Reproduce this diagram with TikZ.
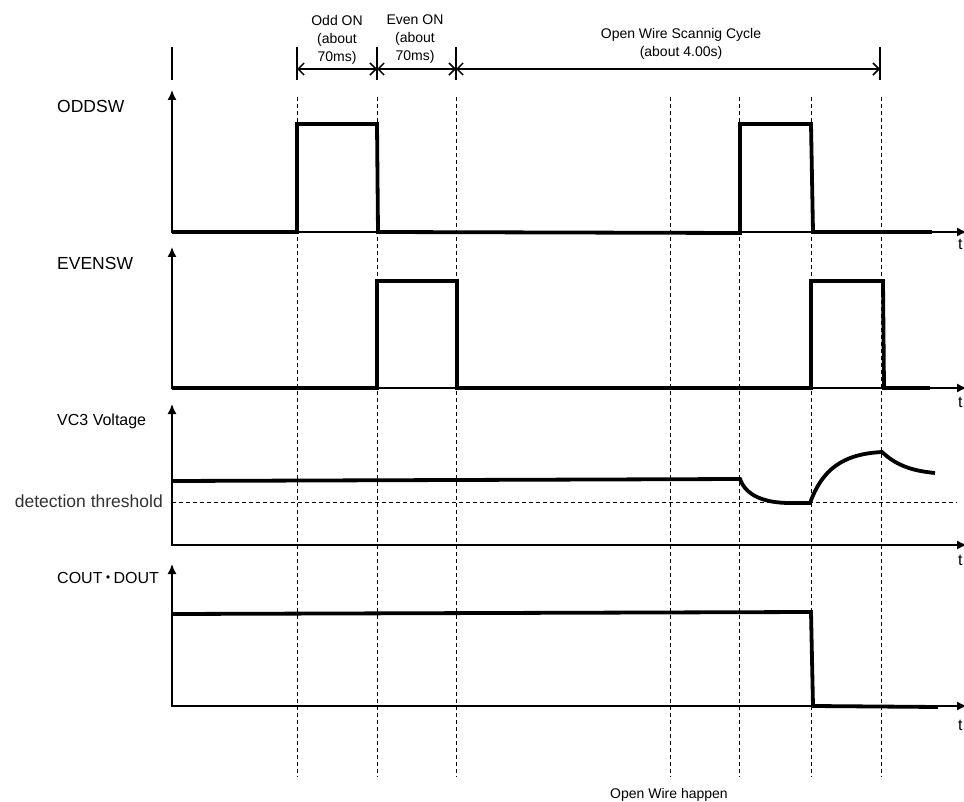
\documentclass[tikz,border=0pt]{standalone}
\usepackage{fontspec}
\setmainfont{Liberation Sans}
\newfontfamily\cjk{Noto Sans CJK JP}
\usetikzlibrary{arrows.meta}
\begin{document}
\begin{tikzpicture}[x=1pt,y=-1pt,
  axisline/.style={line width=1.5pt,{Latex[length=10pt,width=9pt]}-{Latex[length=10pt,width=9pt]}},
  sig/.style={line width=3.8pt,line join=miter,line cap=butt},
  guide/.style={line width=0.8pt,dash pattern=on 4pt off 3pt},
  thr/.style={line width=0.8pt,dash pattern=on 4pt off 3pt},
  tick/.style={line width=1.5pt},
  dimarrow/.style={line width=1.5pt,{Straight Barb[length=6pt,width=12pt]}-{Straight Barb[length=6pt,width=12pt]}},
  siglabel/.style={inner sep=0pt,anchor=base west,font=\fontsize{17.5}{20}\selectfont},
  smalllabel/.style={inner sep=0pt,font=\fontsize{14}{18}\selectfont,align=center},
  tlabel/.style={inner sep=0pt,anchor=base west,font=\fontsize{16}{18}\selectfont}]
\useasboundingbox (0,0) rectangle (964,802);
\fill[white] (0,0) rectangle (964,802);

% guide lines
\foreach \gx in {297,377,456,670,739,811,881}
  \draw[guide] (\gx,97) -- (\gx,777);

% top dimension ticks
\foreach \tx/\tn in {172/ta,297/tb,377/tc,456/td,880/te}{
  \coordinate (\tn top) at (\tx,47);
  \coordinate (\tn) at (\tx,69);
  \coordinate (\tn bot) at (\tx,80);
  \draw[tick] (\tn top) -- (\tn bot);
}
\draw[dimarrow] (tb) -- (tc);
\draw[dimarrow] (tc) -- (td);
\draw[dimarrow] (td) -- (te);

\node[smalllabel,anchor=north] (oddon) at (337,15) {Odd ON\\(about\\70ms)};
\node[smalllabel,anchor=north] (evenon) at (415,15) {Even ON\\(about\\70ms)};
\node[smalllabel,anchor=north] (cycle) at (681,28) {Open Wire Scannig Cycle\\(about 4.00s)};

% axes
\coordinate (o1) at (172,232);
\coordinate (o2) at (172,388);
\coordinate (o3) at (172,545);
\coordinate (o4) at (172,706);
\draw[axisline] (172,90) -- (o1) -- (967,232);
\draw[axisline] (172,247) -- (o2) -- (967,388);
\draw[axisline] (172,404) -- (o3) -- (967,545);
\draw[axisline] (172,564) -- (o4) -- (967,706);

% labels
\node[siglabel] (lodd) at (57,113) {ODDSW};
\node[siglabel] (leven) at (57,270) {EVENSW};
\node[siglabel,font=\fontsize{16}{18}\selectfont] (lvc3) at (57,425) {VC3 Voltage};
\node[siglabel,font=\fontsize{16}{18}\selectfont] (lcout) at (57,583) {COUT\kern-2.5pt{\cjk ・}\kern-2.5ptDOUT};
\node[inner sep=0pt,anchor=base east,font=\fontsize{17.5}{20}\selectfont,text=black!80] (lthr) at (163,507) {detection threshold};

\node[tlabel] (t1) at (958,250) {t};
\node[tlabel] (t2) at (958,407) {t};
\node[tlabel] (t3) at (958,565) {t};
\node[tlabel] (t4) at (958,730) {t};

% threshold
\draw[thr] (172,502) -- (957,502);

% signals
\draw[sig] (172,232) -- (297,232) -- (297,124) -- (377,124) -- (378,232) -- (740,233) -- (740,124) -- (811,124) -- (813,232) -- (932,232);
\draw[sig] (172,388) -- (377,388) -- (377,281) -- (457,281) -- (457,388) -- (811,388) -- (811,281) -- (883,281) -- (884,388) -- (930,388);
\draw[sig] (172,481) -- (740,479) .. controls (746,496) and (765,503) .. (790,503) -- (810,503) .. controls (822,470) and (842,454) .. (882,452) .. controls (898,467) and (915,471) .. (935,473);
\draw[sig] (172,614) -- (811,612) -- (813,706) -- (938,707);

\node[inner sep=0pt,anchor=base,font=\fontsize{14}{18}\selectfont] (happen) at (669,798) {Open Wire happen};
\end{tikzpicture}
\end{document}
